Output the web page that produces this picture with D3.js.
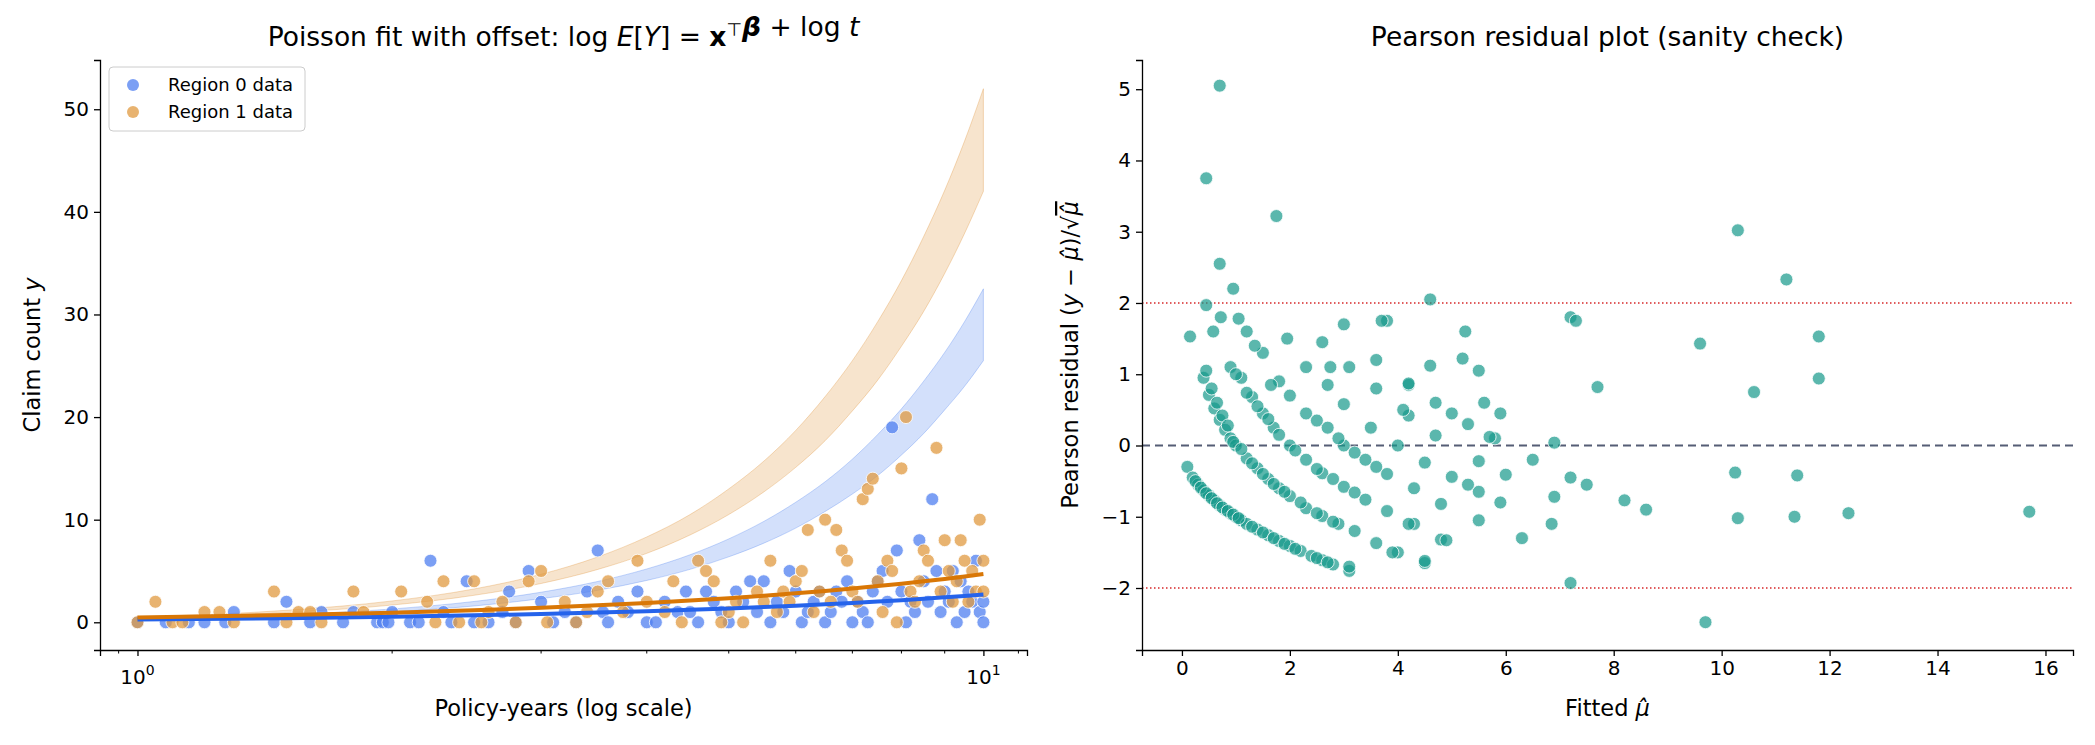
<!DOCTYPE html><html><head><meta charset="utf-8">
<script src="https://cdn.jsdelivr.net/npm/d3@7"></script>
<style>body{margin:0;background:#fff;font-family:"DejaVu Sans",sans-serif}</style></head><body>
<svg id="c" width="2095" height="745"></svg>
<script>
const region0 = [[1.0,0],[1.08,0],[1.15,0],[1.2,0],[1.27,0],[1.3,1],[1.45,0],[1.5,2],[1.6,0],[1.65,1],[1.75,0],[1.8,1],[1.92,0],[1.95,0],[1.98,0],[2.0,1],[2.1,0],[2.15,0],[2.22,6],[2.3,1],[2.35,0],[2.45,4],[2.5,0],[2.6,0],[2.7,1],[2.75,3],[2.8,0],[2.9,5],[3.0,2],[3.1,0],[3.2,1],[3.3,0],[3.4,3],[3.5,7],[3.55,1],[3.6,0],[3.7,2],[3.8,1],[3.9,3],[4.0,0],[4.1,0],[4.2,2],[4.35,1],[4.45,3],[4.5,1],[4.6,0],[4.7,3],[4.8,2],[4.9,1],[5.0,0],[5.1,3],[5.2,2],[5.3,4],[5.4,1],[5.5,4],[5.6,0],[5.7,2],[5.8,1],[5.9,5],[6.0,3],[6.1,0],[6.2,1],[6.3,2],[6.4,3],[6.5,0],[6.6,1],[6.7,3],[6.8,2],[6.9,4],[7.0,0],[7.1,2],[7.2,1],[7.3,0],[7.4,3],[7.5,4],[7.6,5],[7.7,2],[7.8,19],[7.9,7],[8.0,3],[8.1,0],[8.2,2],[8.3,1],[8.4,8],[8.5,4],[8.6,2],[8.7,12],[8.8,5],[8.9,1],[9.0,3],[9.1,2],[9.2,5],[9.3,0],[9.4,4],[9.5,1],[9.6,3],[9.7,2],[9.8,6],[9.9,1],[10.0,0],[10.0,2]];
const region1 = [[1.0,0],[1.05,2],[1.1,0],[1.13,0],[1.2,1],[1.25,1],[1.3,0],[1.45,3],[1.5,0],[1.55,1],[1.6,1],[1.65,0],[1.8,3],[1.85,1],[2.05,3],[2.2,2],[2.25,0],[2.3,4],[2.4,0],[2.5,4],[2.55,0],[2.6,1],[2.7,2],[2.8,0],[2.9,4],[3.0,5],[3.05,0],[3.2,2],[3.3,0],[3.4,1],[3.5,3],[3.6,4],[3.75,1],[3.9,6],[4.0,2],[4.2,1],[4.3,4],[4.4,0],[4.6,6],[4.7,5],[4.8,4],[4.9,0],[5.0,1],[5.1,2],[5.2,0],[5.4,3],[5.5,2],[5.6,6],[5.7,1],[5.8,3],[5.9,2],[6.0,4],[6.1,5],[6.2,9],[6.3,1],[6.4,3],[6.5,10],[6.6,2],[6.7,9],[6.8,7],[6.9,6],[7.0,3],[7.1,2],[7.2,12],[7.3,13],[7.4,14],[7.5,4],[7.6,1],[7.7,6],[7.8,5],[7.9,0],[8.0,15],[8.1,20],[8.2,3],[8.3,2],[8.4,4],[8.5,7],[8.6,6],[8.8,17],[8.9,3],[9.0,8],[9.1,5],[9.2,2],[9.3,4],[9.4,8],[9.5,6],[9.6,2],[9.7,5],[9.8,3],[9.9,10],[10.0,6],[10.0,3]];
const tGrid   = [1,1.5,2,2.5,3,3.5,4,4.5,5,5.5,6,6.5,7,7.5,8,8.5,9,9.5,10];
const fit0    = [0.27,0.40,0.54,0.68,0.81,0.95,1.08,1.22,1.35,1.49,1.62,1.76,1.89,2.03,2.16,2.30,2.43,2.57,2.70];
const fit1    = [0.47,0.71,0.94,1.18,1.41,1.65,1.88,2.12,2.35,2.59,2.82,3.06,3.29,3.53,3.76,4.00,4.23,4.47,4.70];
const band0Lo = [0.26,0.57,1.02,1.59,2.30,3.12,4.08,5.16,6.38,7.71,9.18,10.8,12.5,14.3,16.3,18.4,20.7,23.0,25.5];
const band0Hi = [0.33,0.73,1.30,2.03,2.93,3.98,5.20,6.58,8.13,9.83,11.7,13.7,15.9,18.3,20.8,23.5,26.3,29.3,32.5];
const band1Lo = [0.42,0.95,1.68,2.63,3.78,5.15,6.72,8.51,10.5,12.7,15.1,17.7,20.6,23.6,26.9,30.3,34.0,37.9,42.0];
const band1Hi = [0.52,1.17,2.08,3.25,4.68,6.37,8.32,10.5,13.0,15.7,18.7,22.0,25.5,29.3,33.3,37.6,42.1,46.9,52.0];
const fitted = [0.1,0.2,0.3,0.4,0.5,0.6,0.7,0.8,0.9,1.0,1.1,1.2,1.4,1.6,1.8,2.0,2.2,2.4,2.6,2.8,3.1,
 0.15,0.4,0.5,0.6,0.7,0.8,0.9,1.0,1.2,1.4,1.6,1.8,2.0,2.3,2.6,2.9,3.2,3.6,4.0,4.5,
 0.45,0.9,1.1,1.3,1.5,1.7,2.0,2.3,2.6,3.0,3.4,3.8,4.3,4.8,4.9,
 0.7,0.95,1.2,1.5,1.8,2.3,2.7,3.0,3.4,3.8,4.3,4.8,5.5,
 1.95,2.3,2.7,3.0,3.5,4.0,4.5,5.0,5.5,
 2.6,3.1,3.6,4.2,4.7,5.5,6.0,6.9,
 3.0,3.6,4.2,5.0,5.8,6.5,7.2,
 3.8,4.6,5.6,6.9,7.5,
 0.7,0.45,1.75,4.6,10.3,11.2,11.8,11.8,9.6,10.6,7.2,7.3,7.7,8.2,8.6,10.25,10.3,11.4,11.35,12.35,15.7,9.7,7.2,6.3,6.85,5.3,5.9,5.25,5.2,5.5,5.9,5.3,5.7,4.7,4.1,4.2,3.7,4.5,4.2,3.9,0.72,0.58,1.05,2.75,3.1,
 0.25,0.35,0.45,0.55,0.65,0.75,0.85,0.95,1.05,1.3,1.5,1.7,1.9,2.1,2.5,2.7,
 0.45,0.55,0.65,0.75,0.85,0.95,1.1,1.3,1.5,1.7,1.9,2.2,2.5,2.8,
 1.0,1.2,1.4,1.6,1.8,2.1,2.5,2.8,3.2,
 1.35,1.65,2.0,2.5,2.9,3.2,3.6];
const resid = [-0.3,-0.45,-0.55,-0.63,-0.7,-0.77,-0.84,-0.9,-0.95,-1.0,-1.05,-1.1,-1.18,-1.26,-1.34,-1.41,-1.48,-1.55,-1.61,-1.67,-1.76,
 1.53,0.95,0.71,0.52,0.36,0.22,0.1,0.0,-0.18,-0.32,-0.47,-0.6,-0.71,-0.88,-0.99,-1.1,-1.2,-1.37,-1.5,-1.65,
 1.97,1.1,0.95,0.68,0.45,0.25,0.0,-0.2,-0.39,-0.58,-0.76,-0.92,-1.1,-1.32,-1.33,
 2.55,2.2,1.6,1.3,0.9,0.45,0.25,0.0,-0.2,-0.4,-0.6,-0.82,-1.05,
 1.5,1.1,0.85,0.58,0.25,0.0,-0.24,-0.44,-0.65,
 1.45,1.1,0.8,0.42,0.14,-0.22,-0.41,-0.72,
 1.7,1.2,0.85,0.45,0.1,-0.2,-0.45,
 1.75,1.12,0.6,0.04,-0.55,
 5.05,3.75,3.22,2.05,3.02,2.33,1.53,0.94,1.43,0.75,1.8,1.75,0.82,-0.77,-0.9,-0.38,-1.02,-0.42,-1.0,-0.95,-0.93,-2.48,-1.93,-1.3,-1.1,-0.55,-0.8,1.6,1.22,1.05,0.45,0.3,0.12,0.6,0.5,0.87,1.75,-1.62,-1.1,-1.5,1.8,1.6,1.78,1.1,-1.7,
 -0.5,-0.59,-0.67,-0.74,-0.81,-0.87,-0.92,-0.97,-1.02,-1.14,-1.22,-1.3,-1.38,-1.45,-1.58,-1.64,
 1.05,0.8,0.6,0.42,0.28,0.05,-0.05,-0.25,-0.4,-0.54,-0.65,-0.8,-0.95,-1.07,
 1.0,0.74,0.55,0.37,0.15,-0.07,-0.33,-0.47,-0.66,
 1.4,0.85,0.7,0.35,0.1,-0.1,-0.3];
const legendLabels = ["Region 0 data","Region 1 data"];

const svg = d3.select("#c");
const F = '"DejaVu Sans",sans-serif';
const C0="#2563eb", C1="#d97706", P0="#4f7ff0", P1="#e09a40";

// ---------- left panel
const L={x0:100,x1:1027,y0:60,y1:650};
const xL=d3.scaleLog().domain([0.903,11.26]).range([L.x0,L.x1]);
const yL=d3.scaleLinear().domain([-2.7,54.8]).range([L.y1,L.y0]);
const gL=svg.append("g");
const band=(lo,hi,col)=>gL.append("path").datum(tGrid.map((t,i)=>[t,lo[i],hi[i]]))
  .attr("d",d3.area().x(d=>xL(d[0])).y0(d=>yL(d[1])).y1(d=>yL(d[2])).curve(d3.curveMonotoneX))
  .attr("fill",col).attr("fill-opacity",0.2).attr("stroke",col).attr("stroke-opacity",0.25);
band(band1Lo,band1Hi,C1); band(band0Lo,band0Hi,C0);
const pts=(data,col)=>gL.append("g").selectAll("circle").data(data).join("circle")
  .attr("cx",d=>xL(d[0])).attr("cy",d=>yL(d[1])).attr("r",6.5)
  .attr("fill",col).attr("fill-opacity",0.75).attr("stroke","#fff").attr("stroke-width",0.8);
pts(region0,P0); pts(region1,P1);
const line=(f,col)=>gL.append("path").datum(tGrid.map((t,i)=>[t,f[i]]))
  .attr("d",d3.line().x(d=>xL(d[0])).y(d=>yL(d[1]))).attr("fill","none").attr("stroke",col).attr("stroke-width",4);
line(fit0,C0); line(fit1,C1);
gL.append("g").attr("transform",`translate(${L.x0},0)`)
  .call(d3.axisLeft(yL).tickValues([0,10,20,30,40,50]).tickSize(6).tickPadding(5));
gL.append("g").attr("transform",`translate(0,${L.y1})`)
  .call(d3.axisBottom(xL).tickValues([1,10]).tickSize(6).tickPadding(5).tickFormat(()=>""));
gL.append("g").attr("transform",`translate(0,${L.y1})`).selectAll("line").data([2,3,4,5,6,7,8,9,0.95,11].filter(v=>v>=0.903&&v<=11.26)).join("line")
  .attr("x1",d=>xL(d)).attr("x2",d=>xL(d)).attr("y1",0).attr("y2",3.5).attr("stroke","#000").attr("stroke-width",1);
[1,10].forEach((v,i)=>{const t=gL.append("text").attr("x",xL(v)).attr("y",L.y1+34).attr("text-anchor","middle").attr("font-size",20).attr("font-family",F);
 t.append("tspan").text("10"); t.append("tspan").attr("dy",-9).attr("font-size",14).text(String(i));});
gL.append("text").attr("x",(L.x0+L.x1)/2).attr("y",716).attr("text-anchor","middle").attr("font-size",22.5).attr("font-family",F).text("Policy-years (log scale)");
const yt=gL.append("text").attr("transform",`translate(40,${(L.y0+L.y1)/2}) rotate(-90)`).attr("text-anchor","middle").attr("font-size",22.5).attr("font-family",F);
yt.append("tspan").text("Claim count "); yt.append("tspan").attr("font-style","italic").text("y");
const tt=gL.append("text").attr("x",(L.x0+L.x1)/2).attr("y",46).attr("text-anchor","middle").attr("font-size",26.5).attr("font-family",F);
tt.append("tspan").text("Poisson fit with offset: log ");
tt.append("tspan").attr("font-style","italic").text("E");
tt.append("tspan").text("[");
tt.append("tspan").attr("font-style","italic").text("Y");
tt.append("tspan").text("] = ");
tt.append("tspan").attr("font-weight","bold").text("x");
tt.append("tspan").attr("dy",-10).attr("font-size",18).text("⊤");
tt.append("tspan").attr("dy",10).text("");
tt.append("tspan").attr("font-weight","bold").attr("font-style","italic").text("β");
tt.append("tspan").text(" + log ");
tt.append("tspan").attr("font-style","italic").text("t");
const lg=gL.append("g");
lg.append("rect").attr("x",109).attr("y",67).attr("width",196).attr("height",64).attr("rx",4).attr("fill","#fff").attr("stroke","#ccc");
legendLabels.forEach((s,i)=>{lg.append("circle").attr("cx",133).attr("cy",85+i*27).attr("r",6).attr("fill",[P0,P1][i]).attr("fill-opacity",0.75);
 lg.append("text").attr("x",168).attr("y",91+i*27).attr("font-size",18).attr("font-family",F).text(s);});
// ---------- right panel
const R={x0:1142,x1:2073,y0:60,y1:650};
const xR=d3.scaleLinear().domain([-0.74,16.51]).range([R.x0,R.x1]);
const yR=d3.scaleLinear().domain([-2.87,5.41]).range([R.y1,R.y0]);
const gR=svg.append("g");
[2,-2].forEach(v=>gR.append("line").attr("x1",R.x0).attr("x2",R.x1).attr("y1",yR(v)).attr("y2",yR(v)).attr("stroke","#d62728").attr("stroke-width",1.3).attr("stroke-dasharray","1.5,2.5"));
gR.append("line").attr("x1",R.x0).attr("x2",R.x1).attr("y1",yR(0)).attr("y2",yR(0)).attr("stroke","#555d75").attr("stroke-width",2).attr("stroke-dasharray","8,5");
gR.append("g").selectAll("circle").data(fitted.map((f,i)=>[f,resid[i]])).join("circle")
  .attr("cx",d=>xR(d[0])).attr("cy",d=>yR(d[1])).attr("r",6.5).attr("fill","#16988a").attr("fill-opacity",0.7).attr("stroke","#fff").attr("stroke-width",0.8);
gR.append("g").attr("transform",`translate(${R.x0},0)`).call(d3.axisLeft(yR).tickValues([-2,-1,0,1,2,3,4,5]).tickSize(6).tickPadding(5).tickFormat(d=>d<0?"−"+(-d):d));
gR.append("g").attr("transform",`translate(0,${R.y1})`).call(d3.axisBottom(xR).tickValues([0,2,4,6,8,10,12,14,16]).tickSize(6).tickPadding(5));
const xt=gR.append("text").attr("x",(R.x0+R.x1)/2).attr("y",716).attr("text-anchor","middle").attr("font-size",22.5).attr("font-family",F);
xt.append("tspan").text("Fitted "); xt.append("tspan").attr("font-style","italic").text("μ̂");
const yr=gR.append("text").attr("transform",`translate(1078,${(R.y0+R.y1)/2}) rotate(-90)`).attr("text-anchor","middle").attr("font-size",22.5).attr("font-family",F);
yr.append("tspan").text("Pearson residual (");
yr.append("tspan").attr("font-style","italic").text("y");
yr.append("tspan").text(" − ");
yr.append("tspan").attr("font-style","italic").text("μ̂");
yr.append("tspan").text(")/√");
yr.append("tspan").attr("font-style","italic").attr("text-decoration","overline").text("μ̂");
gR.append("text").attr("x",(R.x0+R.x1)/2).attr("y",46).attr("text-anchor","middle").attr("font-size",26.5).attr("font-family",F).text("Pearson residual plot (sanity check)");
svg.selectAll(".tick text").attr("font-size",20).attr("font-family",F).attr("fill","#000");
svg.selectAll(".domain").attr("stroke-width",1.3);
svg.selectAll(".tick line").attr("stroke-width",1.3);
</script></body></html>
